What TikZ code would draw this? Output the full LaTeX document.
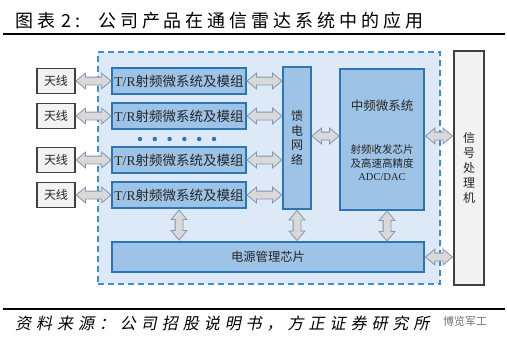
\documentclass[tikz,border=0pt]{standalone}
\usepackage{fontspec}
\setmainfont{Liberation Serif}
\newfontfamily\cjk{Noto Sans CJK SC}
\newfontfamily\titlefont[LetterSpace=22]{Noto Sans CJK SC}
\newfontfamily\srcfont[LetterSpace=31,FakeSlant=0.2]{Noto Sans CJK SC}
\usetikzlibrary{shapes.arrows,calc}
\definecolor{dashblue}{HTML}{3A8FD6}
\definecolor{bgblue}{HTML}{DDE9F6}
\definecolor{boxblue}{HTML}{9DC3E6}
\definecolor{edgeblue}{HTML}{2E75B6}
\definecolor{arrfill}{HTML}{D9D9D9}
\definecolor{arredge}{HTML}{8496B0}
\definecolor{txt}{HTML}{262626}
\definecolor{graybox}{HTML}{F2F2F2}
\definecolor{darkedge}{HTML}{404040}
\tikzset{
  bluebox/.style={draw=edgeblue, fill=boxblue, line width=1.1pt, text=txt, inner sep=0pt, align=center},
  antbox/.style={draw=darkedge, fill=graybox, line width=1.4pt, text=txt, inner sep=0pt, minimum width=38pt, minimum height=25pt, font=\cjk\fontsize{12}{14}\selectfont},
  trbox/.style={bluebox, minimum width=134pt, minimum height=26pt, font=\fontsize{13.5}{15}\selectfont},
  darr/.style={double arrow, draw=arredge, fill=arrfill, line width=0.8pt, inner sep=3.5pt, minimum width=15pt, double arrow head extend=4pt, double arrow tip angle=80, minimum height=#1},
  darr/.default=35pt,
  vdarr/.style={darr=#1, shape border rotate=90},
  vdarr/.default=30pt,
  dotstyle/.style={circle, fill=edgeblue, inner sep=0pt, minimum size=4.5pt}
}
\newcommand{\trtext}{T/R{\cjk 射频微系统及模组}}
\begin{document}
\begin{tikzpicture}[x=1pt,y=-1pt]
\useasboundingbox (0,0) rectangle (507,343);
\fill[white] (0,0) rectangle (507,343);
% title
\node[anchor=west, inner sep=0pt, font=\titlefont\fontsize{18}{20}\selectfont, text=black] (title) at (15,21) {图表\hspace{6pt}2:\hspace{18pt}公司产品在通信雷达系统中的应用};
\draw[line width=2.5pt, black] (3,34) coordinate (tl) -- (505,34) coordinate (tr);
% dashed region
\node[draw=dashblue, fill=bgblue, dashed, dash pattern=on 6pt off 4pt, line width=1.1pt, minimum width=342pt, minimum height=232pt, inner sep=0pt] (region) at (269,168) {};
% antennas
\node[antbox] (ant1) at (56,81) {天线};
\node[antbox] (ant2) at (56,116) {天线};
\node[antbox] (ant3) at (56,160) {天线};
\node[antbox] (ant4) at (56,195) {天线};
% T/R modules
\node[trbox] (tr1) at (179,81) {\trtext};
\node[trbox] (tr2) at (179,116) {\trtext};
\node[trbox] (tr3) at (179,160) {\trtext};
\node[trbox] (tr4) at (179,195) {\trtext};
% dots
\foreach \i in {0,...,5} { \node[dotstyle] (dot\i) at (140+14.8*\i,139) {}; }
% feed network
\node[bluebox, minimum width=28pt, minimum height=142pt, font=\cjk\fontsize{12}{14.5}\selectfont] (feed) at (297,138) {馈\\电\\网\\络};
% IF subsystem
\node[bluebox, minimum width=84pt, minimum height=141pt] (ifs) at (382,139.5) {};
\node[text=txt, font=\cjk\fontsize{12.5}{14}\selectfont, inner sep=0pt] (ifhead) at (382,106) {中频微系统};
\node[text=txt, align=center, font=\cjk\fontsize{10.5}{13.5}\selectfont, inner sep=0pt] (iftext) at (382,163) {射频收发芯片\\及高速高精度\\{\rmfamily ADC/DAC}};
% power chip
\node[bluebox, minimum width=312pt, minimum height=30pt, font=\cjk\fontsize{12.3}{14}\selectfont] (pw) at (268,257) {电源管理芯片};
% signal processor
\node[draw=darkedge, fill=graybox, line width=1.2pt, minimum width=30pt, minimum height=234pt, inner sep=0pt, align=center, text=txt, font=\cjk\fontsize{12}{15}\selectfont] (sp) at (469,168) {信\\号\\处\\理\\机};
% arrows
\foreach \i in {1,...,4} {
  \node[darr] (aa\i) at ($(ant\i.east)!0.5!(tr\i.west)$) {};
  \node[darr] (af\i) at ($(tr\i.east)!0.5!(tr\i.east -| feed.west)$) {};
}
\node[darr=27pt, yshift=2pt] (fi) at ($(feed.east)!0.5!(feed.east -| ifs.west)$) {};
\node[darr=27pt, yshift=3.5pt] (is) at ($(ifs.east)!0.5!(ifs.east -| sp.west)$) {};
\node[darr=27pt] (ps) at ($(pw.east)!0.5!(pw.east -| sp.west)$) {};
\node[vdarr] (tp) at ($(tr4.south)!0.5!(tr4.south |- pw.north)$) {};
\node[vdarr] (fp) at ($(feed.south)!0.5!(feed.south |- pw.north)$) {};
\node[vdarr, xshift=5pt] (ip) at ($(ifs.south)!0.5!(ifs.south |- pw.north)$) {};
% bottom line and source
\draw[line width=2.5pt, black] (3,309) coordinate (bl) -- (505,309) coordinate (br);
\node[anchor=west, inner sep=0pt, font=\srcfont\fontsize{16}{18}\selectfont, text=black] (src) at (15,324) {资料来源：公司招股说明书，方正证券研究所};
\node[anchor=west, inner sep=0pt, font=\cjk\fontsize{11}{13}\selectfont, text=black!55] (wm) at (443,321) {博览军工};
\end{tikzpicture}
\end{document}
